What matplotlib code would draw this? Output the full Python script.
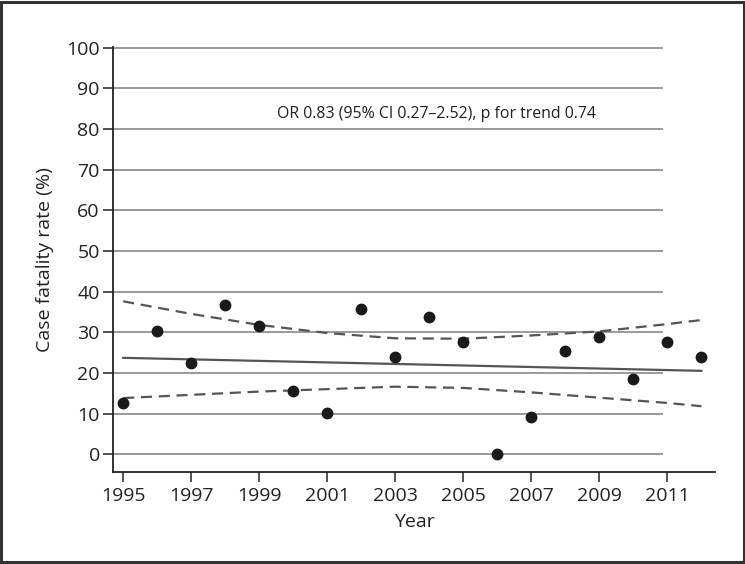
import matplotlib
matplotlib.use("Agg")
import matplotlib.pyplot as plt
from matplotlib.patches import Rectangle

plt.rcParams['font.family'] = ['Open Sans', 'DejaVu Sans']

years = list(range(1995, 2013))
cfr = [12.5, 30.2, 22.5, 36.7, 31.6, 15.5, 10.1, 35.6, 23.9,
       33.8, 27.5, 0.1, 9.1, 25.3, 28.9, 18.4, 27.5, 23.8]

trend_years = [1995, 2012]
trend_vals = [23.7, 20.5]

ci_years = [1995, 1997, 1999, 2001, 2003, 2005, 2007, 2009, 2011, 2012]
ci_upper = [37.6, 34.5, 31.8, 29.8, 28.5, 28.4, 29.2, 30.2, 32.0, 33.0]
ci_lower = [13.8, 14.6, 15.4, 16.0, 16.6, 16.3, 15.2, 13.9, 12.6, 11.8]

yticks = list(range(0, 101, 10))
xticks = list(range(1995, 2012, 2))
annotation = "OR 0.83 (95% CI 0.27\u20132.52), p for trend 0.74"

fig = plt.figure(figsize=(7.45, 5.64), dpi=100)
ax = fig.add_axes([0.1517, 0.163, 0.808, 0.754])

xlim = (1994.7, 2012.4)
ax.set_xlim(*xlim)
ax.set_ylim(-4.4, 100.2)

ax.hlines(yticks, xlim[0], 2010.88, color='#9a9a9a', lw=1.4, zorder=1)

ax.plot(trend_years, trend_vals, color='#555555', lw=1.6, zorder=2)
ax.plot(ci_years, ci_upper, color='#555555', lw=1.6, ls=(0, (5, 3)), zorder=2)
ax.plot(ci_years, ci_lower, color='#555555', lw=1.6, ls=(0, (5, 3)), zorder=2)

ax.plot(years, cfr, 'o', color='#1a1a1a', markersize=7.5, zorder=3, clip_on=False)

ax.text(2004.2, 83.7, annotation, ha='center', va='center', fontsize=11.4, color='#222222')

ax.set_yticks(yticks)
ax.set_xticks(xticks)
ax.tick_params(axis='both', direction='out', length=7.5, width=1.1, colors='#222222',
               labelsize=14, labelcolor='#222222')
ax.tick_params(axis='y', pad=2)
ax.tick_params(axis='x', pad=3)

for s in ['top', 'right']:
    ax.spines[s].set_visible(False)
for s in ['left', 'bottom']:
    ax.spines[s].set_color('#222222')
    ax.spines[s].set_linewidth(1.3)

ax.set_xlabel('Year', fontsize=14, color='#222222', labelpad=6)
ax.set_ylabel('Case fatality rate (%)', fontsize=14, color='#222222', labelpad=9)

fig.patches.append(Rectangle((0.002, 0.003), 0.996, 0.994, transform=fig.transFigure,
                             fill=False, edgecolor='#333333', lw=2.2))

fig.savefig('out.png', dpi=100)
